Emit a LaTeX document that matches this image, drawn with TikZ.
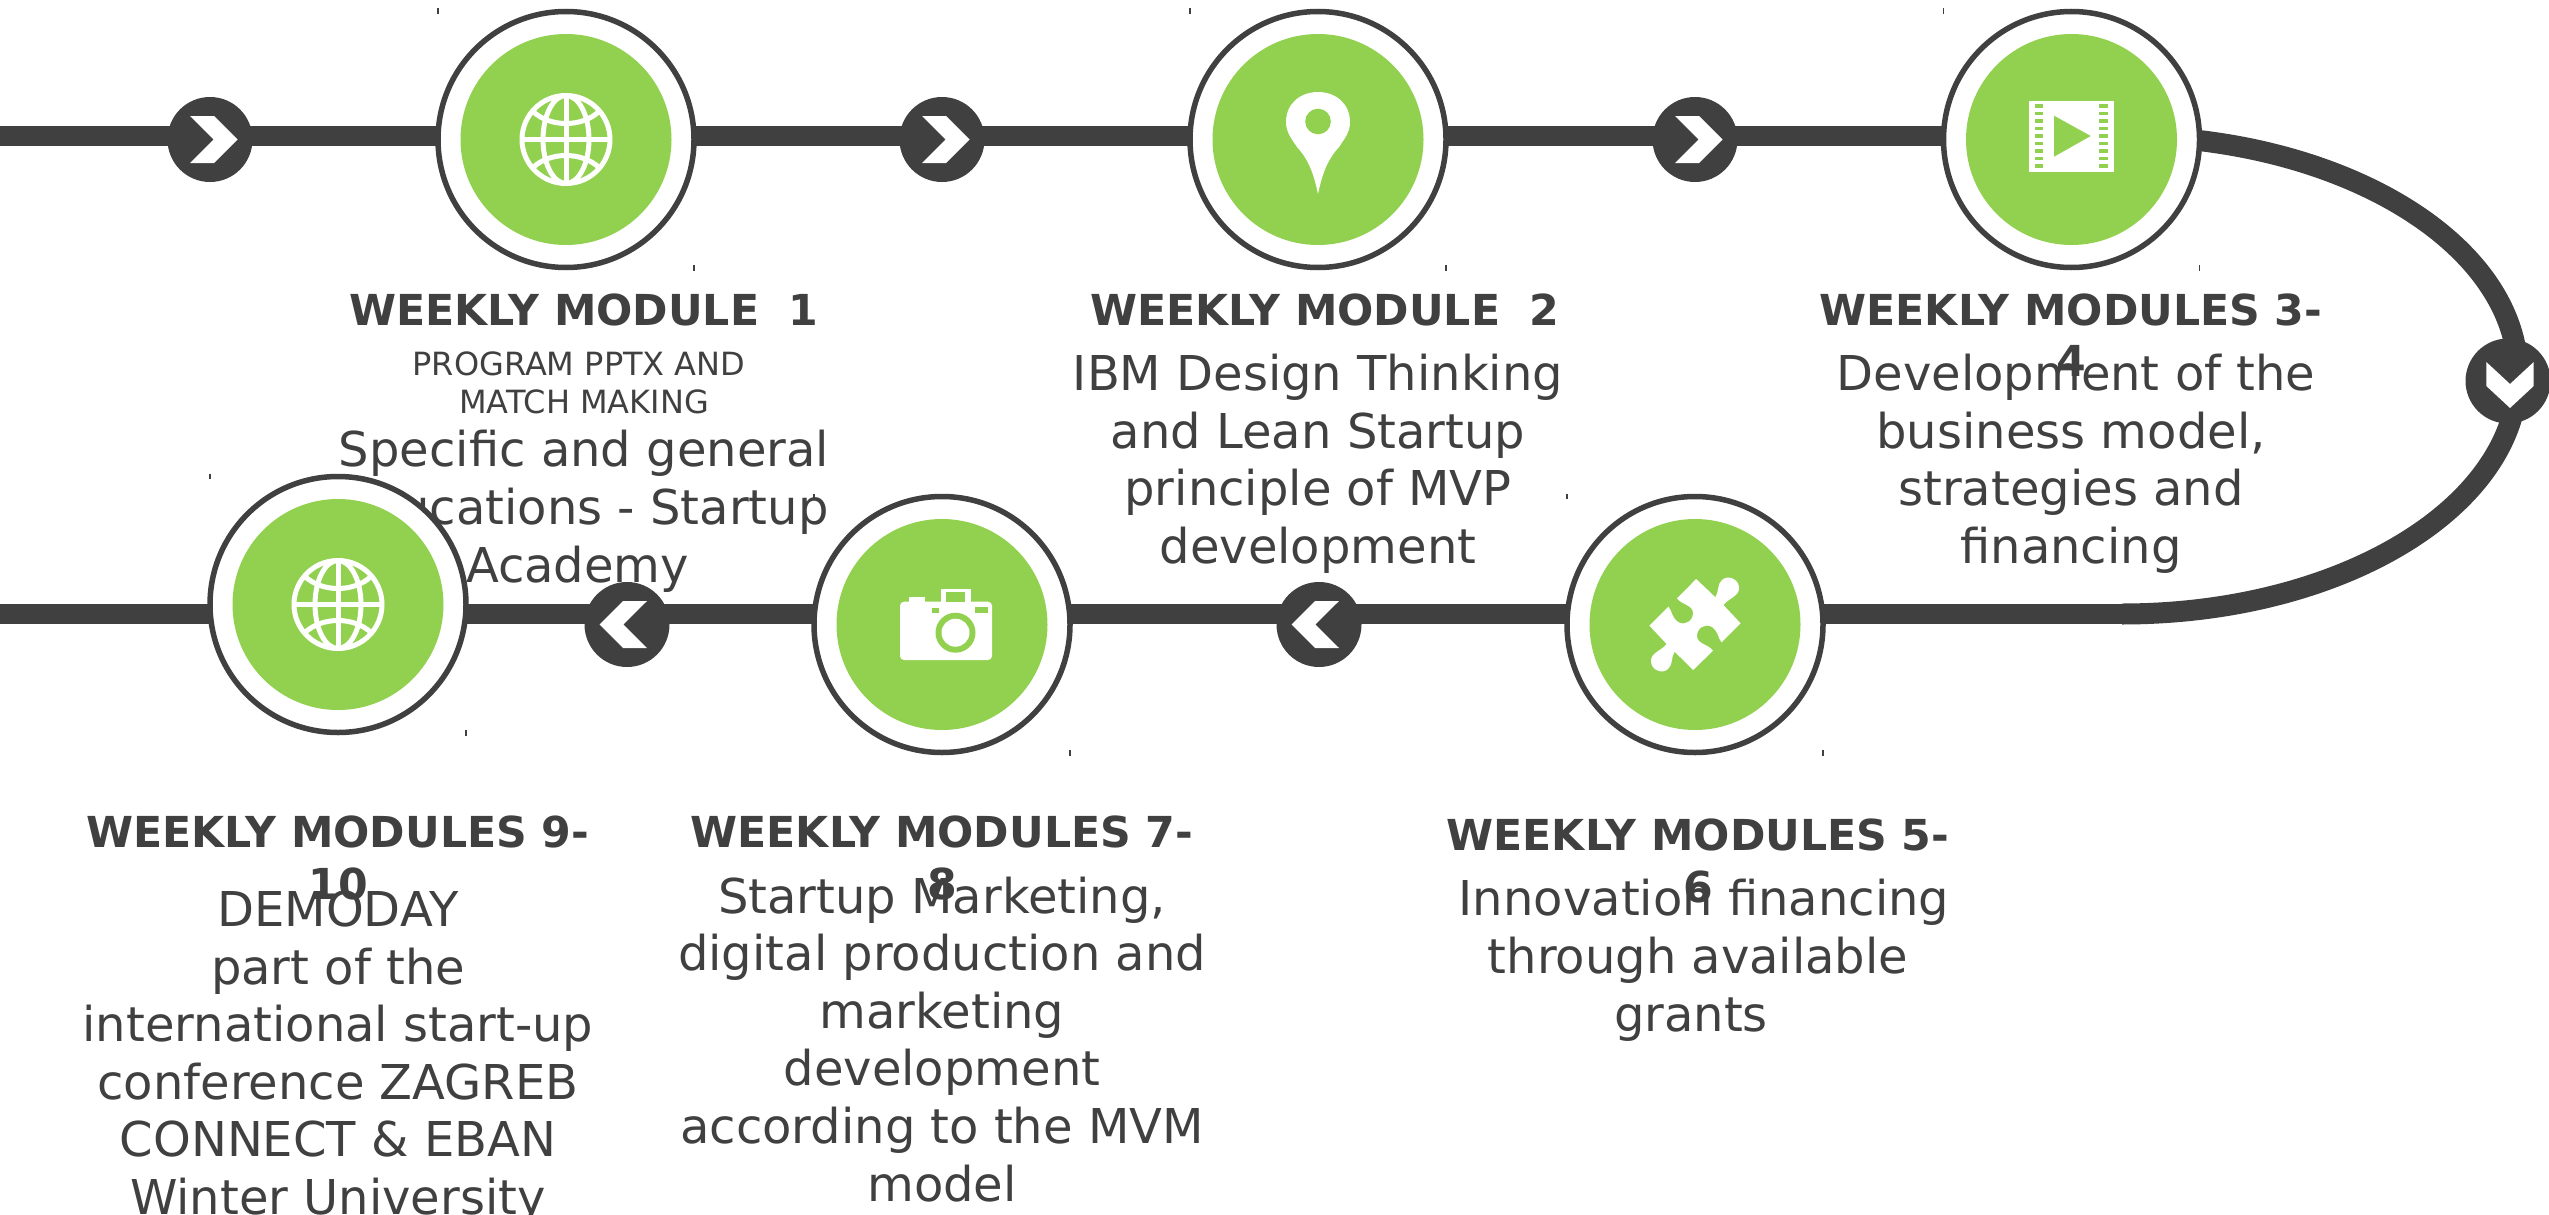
\documentclass[tikz,border=0pt]{standalone}
\usepackage{fontspec}
\setmainfont{DejaVu Sans}
\definecolor{ink}{HTML}{404040}
\definecolor{leaf}{HTML}{92D14F}
\tikzset{
  x=1pt,y=-1pt,
  rail/.style={draw=ink,line width=20,line cap=butt},
  ring/.style={circle,draw=ink,line width=5.5,fill=white,minimum size=256,inner sep=0},
  disk/.style={circle,fill=leaf,minimum size=211,inner sep=0},
  badge/.style={circle,fill=ink,minimum size=85,inner sep=0},
  head/.style={anchor=base,align=center,inner sep=0,text=ink,font=\fontsize{42.67}{51.2}\selectfont\bfseries},
  body/.style={anchor=base,align=center,inner sep=0,text=ink,font=\fontsize{48}{57.6}\selectfont},
  small/.style={anchor=base,align=center,inner sep=0,text=ink,font=\fontsize{32}{37.5}\selectfont},
  cropmark/.style={draw=ink,line width=1.2},
  glyphline/.style={draw=white,line width=5,fill=none}
}
\newcommand{\globeicon}[2]{%
  \begin{scope}[shift={(#1,#2)}]
    \draw[glyphline] (0,0) circle[radius=44];
    \draw[glyphline] (0,-44) -- (0,44) (-44,0) -- (44,0);
    \draw[glyphline] (0,0) ellipse[x radius=23,y radius=44];
    \draw[glyphline] (-33,-28) .. controls (-16,-12) and (16,-12) .. (33,-28);
    \draw[glyphline] (-33,28) .. controls (-16,12) and (16,12) .. (33,28);
  \end{scope}}
\newcommand{\chevright}[2]{\fill[white,shift={(#1,#2)}] (-20,-23.5) -- (4,-23.5) -- (27.5,0) -- (4,23.5) -- (-20,23.5) -- (3.7,0) -- cycle;}
\newcommand{\chevleft}[2]{\fill[white,shift={(#1,#2)}] (20,-23.5) -- (-4,-23.5) -- (-27.5,0) -- (-4,23.5) -- (20,23.5) -- (-3.7,0) -- cycle;}
\newcommand{\chevdown}[2]{\fill[white,shift={(#1,#2)}] (-23.7,-19) -- (0,3) -- (23.7,-19) -- (23.7,5) -- (0,27) -- (-23.7,5) -- cycle;}
\begin{document}
\begin{tikzpicture}
\useasboundingbox (0,0) rectangle (2549,1215);
\clip (0,0) rectangle (2549,1215);
% texts lie under the circles
\node[head] (h1) at (584,325.5) {WEEKLY MODULE\ \ 1};
\node[small] (s1) at (579,413) {PROGRAM PPTX AND\\\hspace*{10pt}MATCH MAKING};
\node[body] (b1) at (584,582) {Specific and general\\educations - Startup\\\hspace*{-13pt}Academy};
\node[head] (h2) at (1325,325.5) {WEEKLY MODULE\ \ 2};
\node[body] (b2) at (1318,563.5) {IBM Design Thinking\\and Lean Startup\\principle of MVP\\development};
\node[head] (h3) at (2071,376.5) {WEEKLY MODULES 3-\\4};
\node[body] (b3) at (2071,563.5) {\hspace*{10pt}Development of the\\business model,\\strategies and\\financing};
\node[head] (h4) at (338,899) {WEEKLY MODULES 9-\\10};
\node[body] (b4) at (338,1214.5) {DEMODAY\\part of the\\international start-up\\conference ZAGREB\\CONNECT \& EBAN\\Winter University};
\node[head] (h5) at (942,899) {WEEKLY MODULES 7-\\8};
\node[body] (b5) at (942,1201) {Startup Marketing,\\digital production and\\marketing\\development\\according to the MVM\\model};
\node[head] (h6) at (1698,902) {WEEKLY MODULES 5-\\6};
\node[body] (b6) at (1698,1031) {\hspace*{12pt}Innovation financing\\through available\\\hspace*{-14pt}grants};
% rail anchors
\coordinate (topL) at (0,136);
\coordinate (botL) at (0,614);
\coordinate (curveTop) at (2122,136);
\coordinate (curveRight) at (2518,375);
\coordinate (curveBot) at (2122,614);
% nodes positions
\coordinate (pm1) at (566,139.5);
\coordinate (pm2) at (1318,139.5);
\coordinate (pm3) at (2071.5,139.5);
\coordinate (pm4) at (338,604.5);
\coordinate (pm5) at (942,624.5);
\coordinate (pm6) at (1695,624.5);
% rails
\draw[rail] (topL) -- (topL -| pm1);
\draw[rail] (topL -| pm1) -- (topL -| pm2);
\draw[rail] (topL -| pm2) -- (topL -| pm3);
\draw[rail] (topL -| pm3) -- (curveTop);
\draw[rail,line width=21] (curveTop) .. controls (2341,136) and (2518,243) .. (curveRight)
  .. controls (2518,507) and (2341,614) .. (curveBot);
\draw[rail] (curveBot) -- (botL -| pm6);
\draw[rail] (botL -| pm6) -- (botL -| pm5);
\draw[rail] (botL -| pm5) -- (botL -| pm4);
\draw[rail] (botL -| pm4) -- (botL);
% badges
\node[badge] (c1) at (210,139.5) {};
\node[badge] (c2) at (942,139.5) {};
\node[badge] (c3) at (1695,139.5) {};
\node[badge] (c4) at (2508,381) {};
\node[badge] (c5) at (1319,624.5) {};
\node[badge] (c6) at (627,624.5) {};
\chevright{210}{139.5}
\chevright{942}{139.5}
\chevright{1695}{139.5}
\chevdown{2510}{381}
\chevleft{1319}{624.5}
\chevleft{627}{624.5}
% rings and disks
\foreach \n/\p in {m1/pm1,m2/pm2,m3/pm3,m4/pm4,m5/pm5,m6/pm6}{
  \node[ring] (\n) at (\p) {};
  \node[disk] (\n g) at (\p) {};
}
% crop marks
\foreach \cx/\cy in {566/139.5,1318/139.5,2071.5/139.5,338/604.5,942/624.5,1695/624.5}{
  \draw[cropmark] (\cx-128,\cy-131) -- (\cx-128,\cy-125.5);
  \draw[cropmark] (\cx+128,\cy+125.5) -- (\cx+128,\cy+131);
}
% icons
\globeicon{566}{139.5}
\globeicon{338}{604.5}
% pin
\fill[white] (1318,194) .. controls (1313,170) and (1307,158) .. (1297,147)
  .. controls (1291,138) and (1286,132) .. (1286,122)
  .. controls (1286,104) and (1300,92) .. (1318,92)
  .. controls (1336,92) and (1350,104) .. (1350,122)
  .. controls (1350,132) and (1345,138) .. (1339,147)
  .. controls (1329,158) and (1323,170) .. (1318,194) -- cycle;
\fill[leaf] (1318,121.5) circle[radius=12.8];
% film
\fill[white] (2029,101) rectangle (2114,172);
\foreach \k in {0,...,8}{
  \fill[leaf] (2034.5,104+\k*7.5) rectangle (2043,107.7+\k*7.5);
  \fill[leaf] (2098.5,104+\k*7.5) rectangle (2107.5,107.7+\k*7.5);
}
\fill[leaf] (2054,115.7) -- (2090.7,136) -- (2054,156.7) -- cycle;
% camera
\fill[white,rounded corners=4] (900,601.7) rectangle (992,660);
\fill[white] (909,596.7) rectangle (924.5,604);
\fill[white] (940.5,589) rectangle (971,603);
\fill[leaf] (946,592) rectangle (965,601.7);
\fill[leaf] (975,607) rectangle (987.6,612.7);
\fill[leaf] (932,608) rectangle (939,612.7);
\fill[leaf] (955.5,632.7) circle[radius=20];
\fill[white] (955.5,632.7) circle[radius=14];
% puzzle
\fill[white] (1696.2,579) -- (1715.4,597.3)
  .. controls (1719,592) and (1717,584) .. (1722,580)
  .. controls (1727,575) and (1738,578) .. (1739,587)
  .. controls (1740,596) and (1729,598) .. (1723.4,605)
  -- (1740.6,623.3) -- (1721.5,642.3)
  .. controls (1718,638) and (1718,631) .. (1712,627)
  .. controls (1705,623) and (1697,628) .. (1697,636)
  .. controls (1697,644) and (1708,644) .. (1713,650.7)
  -- (1693.2,670) -- (1674.6,651.7)
  .. controls (1671,657) and (1673,665) .. (1668,669)
  .. controls (1663,674) and (1652,671) .. (1651,662)
  .. controls (1650,653) and (1661,651) .. (1666.6,644)
  -- (1649.4,625.7) -- (1668.5,606.7)
  .. controls (1672,611) and (1672,618) .. (1678,622)
  .. controls (1685,626) and (1693,621) .. (1693,613)
  .. controls (1693,605) and (1682,605) .. (1677,598.3)
  -- cycle;
\end{tikzpicture}
\end{document}
